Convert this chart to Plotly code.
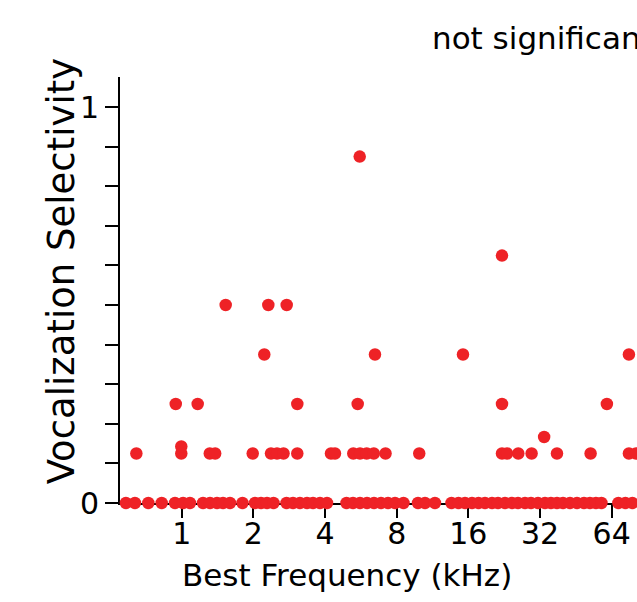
import plotly.graph_objects as go

# Best frequency (kHz) of each unit, grouped by vocalization-selectivity value
sel_levels = [0.0, 0.125, 1/7, 1/6, 0.25, 0.375, 0.5, 0.625, 0.875]

bf_sel_0 = [0.548, 0.583, 0.636, 0.724, 0.824, 0.937, 1.013, 1.083, 1.229, 1.315,
            1.407, 1.491, 1.595, 1.800, 2.032, 2.153, 2.282, 2.430, 2.756, 2.934,
            3.138, 3.359, 3.560, 3.810, 4.077, 4.923, 5.242, 5.61, 6.003, 6.423,
            6.873, 7.354, 7.870, 8.543, 9.83, 10.52, 11.58, 13.59, 14.54, 15.49,
            16.57, 17.65, 18.79, 20.11, 21.31, 22.80, 24.40, 25.86, 27.67, 29.32,
            31.37, 33.57, 35.57, 37.70, 39.96, 42.76, 45.75, 48.95, 51.87, 54.97,
            57.97, 68.28, 73.06, 78.19, 84.2]
bf_sel_0125 = [0.645, 0.996, 1.312, 1.382, 1.987, 2.372, 2.514, 2.677, 3.059, 4.237,
               4.404, 5.257, 5.61, 5.984, 6.41, 7.18, 9.95, 22.15, 23.25, 25.93,
               29.5, 37.7, 52.2, 75.6, 81.0]
bf_sel_0143 = [0.996]
bf_sel_0167 = [33.3]
bf_sel_025 = [0.944, 1.167, 3.059, 5.486, 22.15, 61.1]
bf_sel_0375 = [2.223, 6.485, 15.19, 75.6]
bf_sel_05 = [1.530, 2.311, 2.761]
bf_sel_0625 = [22.15]
bf_sel_0875 = [5.594]

groups = [bf_sel_0, bf_sel_0125, bf_sel_0143, bf_sel_0167, bf_sel_025,
          bf_sel_0375, bf_sel_05, bf_sel_0625, bf_sel_0875]

x_tick_vals = [1, 2, 4, 8, 16, 32, 64]
x_tick_text = ["1", "2", "4", "8", "16", "32", "64"]
y_tick_vals = [0, 1]
y_tick_text = ["0", "1"]

best_freq = []
selectivity = []
for lvl, g in zip(sel_levels, groups):
    best_freq.extend(g)
    selectivity.extend([lvl] * len(g))

RED = "#ee2226"
FONT = "DejaVu Sans"

fig = go.Figure()
fig.add_trace(go.Scatter(
    x=best_freq, y=selectivity, mode="markers",
    marker=dict(size=12.5, color=RED, line=dict(width=0)),
    cliponaxis=False, showlegend=False, hoverinfo="skip",
))

fig.update_layout(
    width=637, height=602, autosize=False,
    margin=dict(l=120, r=0, t=77, b=99),
    paper_bgcolor="white", plot_bgcolor="white",
    font=dict(family=FONT, color="black"),
    xaxis=dict(
        type="log", range=[-0.2592, 1.9125],
        tickvals=x_tick_vals, ticktext=x_tick_text,
        ticks="outside", ticklen=13, tickwidth=2, tickcolor="black",
        ticklabelstandoff=-10,
        showline=True, linewidth=2, linecolor="black",
        showgrid=False, zeroline=False, layer="below traces",
        tickfont=dict(size=30, family=FONT, color="black"),
    ),
    yaxis=dict(
        range=[0, 1.076],
        tickvals=y_tick_vals, ticktext=y_tick_text,
        ticks="outside", ticklen=13, tickwidth=2, tickcolor="black",
        minor=dict(dtick=0.1, tick0=0, ticks="outside", ticklen=13,
                   tickwidth=2, tickcolor="black"),
        showline=True, linewidth=2, linecolor="black",
        showgrid=False, zeroline=False, layer="below traces",
        tickfont=dict(size=30, family=FONT, color="black"),
    ),
    annotations=[
        dict(text="not significant", xref="paper", yref="paper",
             x=0.8163, y=1.091, xanchor="center", yanchor="middle",
             showarrow=False, font=dict(size=31, family=FONT, color="black")),
        dict(text="Best Frequency (kHz)", xref="paper", yref="paper",
             x=0.439, y=-0.1695, xanchor="center", yanchor="middle",
             showarrow=False, font=dict(size=31, family=FONT, color="black")),
        dict(text="Vocalization Selectivity", xref="paper", yref="paper",
             x=-0.114, y=0.544, xanchor="center", yanchor="middle",
             textangle=-90, showarrow=False,
             font=dict(size=37, family=FONT, color="black")),
    ],
)

fig.write_html(
    "out.html",
    config={"responsive": False, "displayModeBar": False},
    post_script="document.body.style.margin='0';document.body.style.overflow='hidden';",
)
